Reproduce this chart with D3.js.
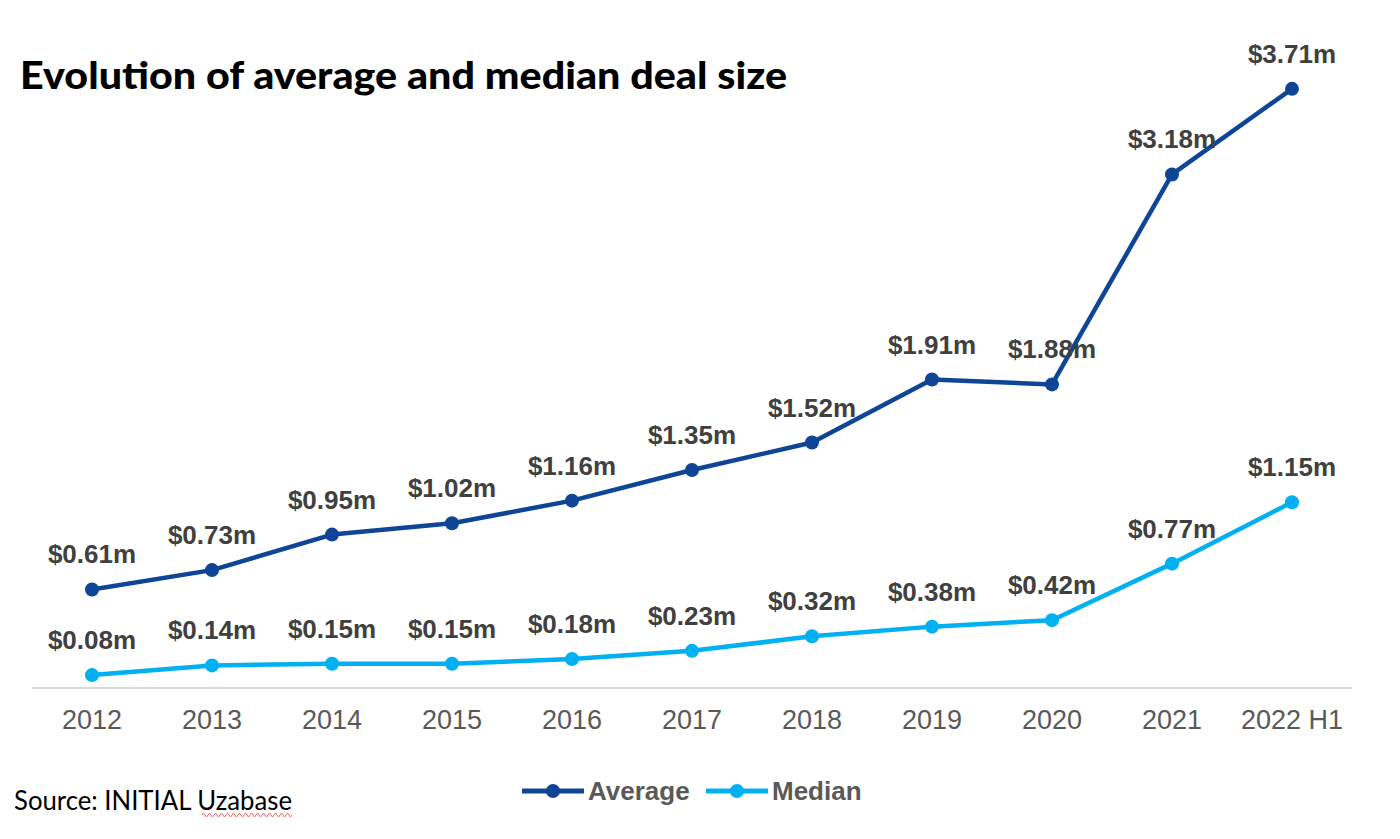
<!DOCTYPE html>
<html>
<head>
<meta charset="utf-8">
<script src="https://cdn.jsdelivr.net/npm/d3@7"></script>
<style>
  body { margin: 0; background: #fff; }
</style>
</head>
<body>
<div id="chart"></div>
<script>
// data
const years = ["2012", "2013", "2014", "2015", "2016", "2017", "2018", "2019", "2020", "2021", "2022 H1"];
const average = [0.61, 0.73, 0.95, 1.02, 1.16, 1.35, 1.52, 1.91, 1.88, 3.18, 3.71];
const median = [0.08, 0.14, 0.15, 0.15, 0.18, 0.23, 0.32, 0.38, 0.42, 0.77, 1.15];
const seriesNames = ["Average", "Median"];
const seriesColors = ["#0E4596", "#00B0F0"];

function drawChart(id) {
  const width = 1400, height = 839;
  const plot = { left: 32, right: 1352, top: 42, bottom: 688 };

  const svg = d3.select(id).append("svg")
    .attr("width", width)
    .attr("height", height)
    .style("font-family", "'Liberation Sans', Arial, sans-serif");

  const x = d3.scaleBand().domain(years).range([plot.left, plot.right]);
  const y = d3.scaleLinear().domain([0, 4]).range([plot.bottom, plot.top]);

  // baseline
  svg.append("line")
    .attr("x1", plot.left).attr("x2", plot.right)
    .attr("y1", y(0)).attr("y2", y(0))
    .style("stroke", "#d9d9d9")
    .style("stroke-width", 2);

  // x axis labels
  const xAxis = svg.append("g")
    .attr("transform", "translate(0," + y(0) + ")")
    .call(d3.axisBottom(x).tickSize(0).tickPadding(22));
  xAxis.select(".domain").remove();
  xAxis.selectAll("text")
    .style("font-size", "27px")
    .style("font-family", "'Liberation Sans', Arial, sans-serif")
    .style("fill", "#595959");

  const line = d3.line()
    .x(function(d, i) { return x(years[i]) + x.bandwidth() / 2; })
    .y(function(d) { return y(d); });

  const series = [average, median];
  series.forEach(function(vals, s) {
    const g = svg.append("g");
    g.append("path")
      .datum(vals)
      .attr("d", line)
      .style("fill", "none")
      .style("stroke", seriesColors[s])
      .style("stroke-width", 4.5)
      .style("stroke-linejoin", "round");

    g.selectAll("circle")
      .data(vals).enter()
      .append("circle")
      .attr("cx", function(d, i) { return x(years[i]) + x.bandwidth() / 2; })
      .attr("cy", function(d) { return y(d); })
      .attr("r", 7)
      .style("fill", seriesColors[s]);

    g.selectAll("text")
      .data(vals).enter()
      .append("text")
      .attr("x", function(d, i) { return x(years[i]) + x.bandwidth() / 2; })
      .attr("y", function(d) { return y(d) - 26; })
      .attr("text-anchor", "middle")
      .style("font-size", "26px")
      .style("font-weight", "bold")
      .style("fill", "#404040")
      .text(function(d) { return "$" + d.toFixed(2) + "m"; });
  });

  // title
  svg.append("text")
    .attr("x", 20)
    .attr("y", 89)
    .attr("textLength", 767)
    .attr("lengthAdjust", "spacingAndGlyphs")
    .style("font-family", "Lato, 'DejaVu Sans', sans-serif")
    .style("font-weight", "900")
    .style("font-size", "37px")
    .style("fill", "#000")
    .text("Evolution of average and median deal size");

  // source
  svg.append("text")
    .attr("x", 14)
    .attr("y", 810)
    .attr("textLength", 278)
    .attr("lengthAdjust", "spacingAndGlyphs")
    .style("font-family", "Lato, sans-serif")
    .style("font-size", "26px")
    .style("fill", "#000")
    .text("Source: INITIAL Uzabase");

  // spellcheck squiggle under Uzabase
  let sq = "M202,815";
  for (let px = 202; px < 292; px += 3) {
    sq += " L" + (px + 1.5) + "," + (px % 6 === 4 ? 813 : 817) + " L" + (px + 3) + ",815";
  }
  svg.append("path").attr("d", sq)
    .style("fill", "none").style("stroke", "#e84a4a").style("stroke-width", 0.8);

  // legend
  const legendX = [522, 706];
  seriesNames.forEach(function(name, s) {
    const lg = svg.append("g").attr("transform", "translate(" + legendX[s] + ",791)");
    lg.append("line")
      .attr("x1", 0).attr("x2", 62).attr("y1", 0).attr("y2", 0)
      .style("stroke", seriesColors[s]).style("stroke-width", 5);
    lg.append("circle").attr("cx", 31).attr("cy", 0).attr("r", 7)
      .style("fill", seriesColors[s]);
    lg.append("text")
      .attr("x", 66).attr("y", 0)
      .attr("dy", "0.35em")
      .style("font-size", "26px")
      .style("font-weight", "bold")
      .style("fill", "#595959")
      .text(name);
  });
}

drawChart("#chart");
</script>
</body>
</html>
